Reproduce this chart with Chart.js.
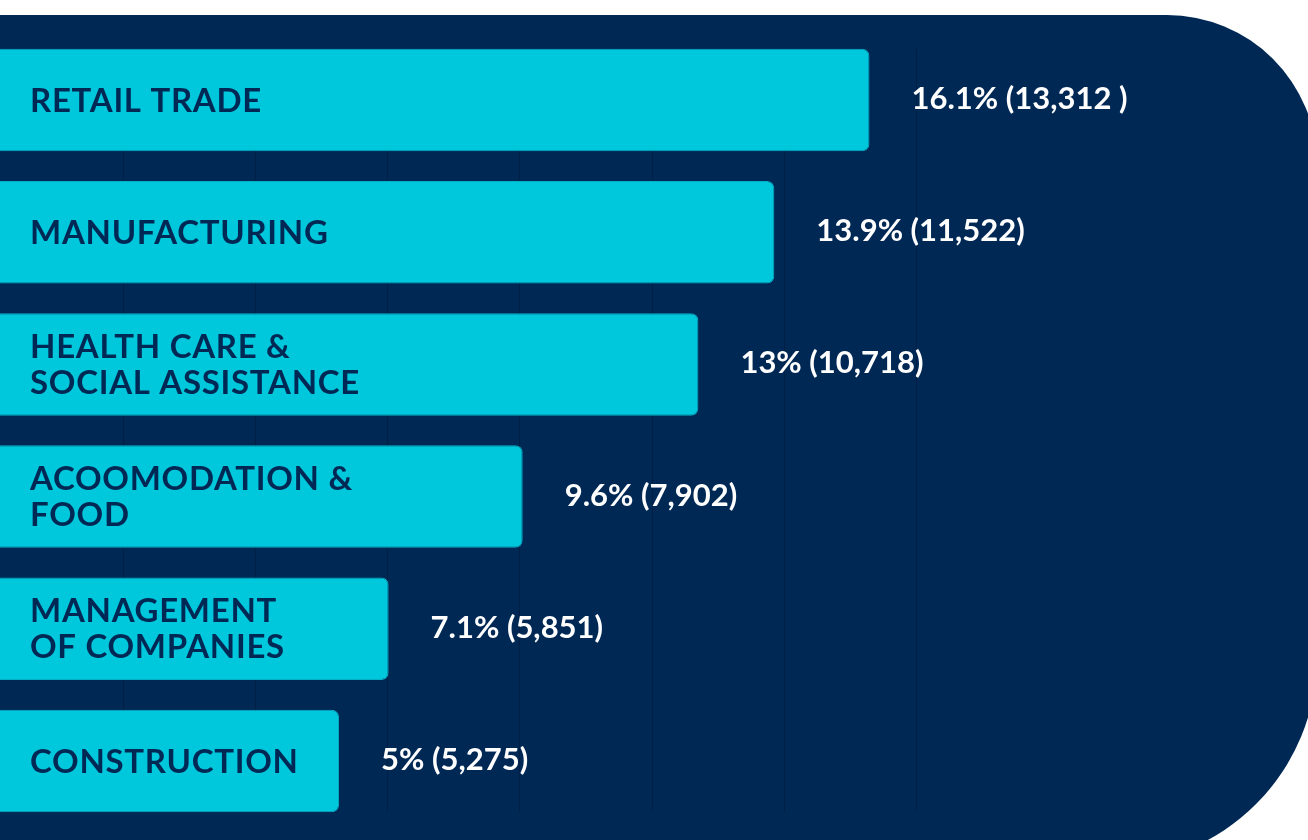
<!DOCTYPE html>
<html>
<head>
<meta charset="utf-8">
<script src="https://cdn.jsdelivr.net/npm/chart.js@4"></script>
<style>
  html, body { margin: 0; padding: 0; background: #fff; overflow: hidden; width: 1308px; height: 840px; position: relative; }
  #panel { position: absolute; left: -40px; top: 15px; width: 1357px; height: 850px; background: #002855; border-radius: 0 150px 208px 0; }
  #chart { position: absolute; left: -9px; top: 0; }
</style>
</head>
<body>
<div id="panel"></div>
<canvas id="chart" width="1321" height="840"></canvas>
<script>
// 데이터
const categories = [
  ['RETAIL TRADE'],
  ['MANUFACTURING'],
  ['HEALTH CARE &', 'SOCIAL ASSISTANCE'],
  ['ACOOMODATION &', 'FOOD'],
  ['MANAGEMENT', 'OF COMPANIES'],
  ['CONSTRUCTION'],
];
// bar lengths as drawn in the picture (jobs)
const barValues = [13300, 11860, 10710, 8050, 6020, 5270];
const valueLabels = [
  '16.1% (13,312 )',
  '13.9% (11,522)',
  '13% (10,718)',
  '9.6% (7,902)',
  '7.1% (5,851)',
  '5% (5,275)',
];
const gridStep = 2000;
const gridMax = 14000;

// grid lines only between the first and last bar, then text on top
const barText = {
  id: 'barText',
  beforeDatasetsDraw(chart) {
    const ctx = chart.ctx;
    const xs = chart.scales.x;
    const bars = chart.getDatasetMeta(0).data;
    const top = bars[0].y - bars[0].height / 2;
    const last = bars[bars.length - 1];
    const bottom = last.y + last.height / 2;
    ctx.save();
    ctx.strokeStyle = '#001f45';
    ctx.lineWidth = 1;
    for (let v = gridStep; v <= gridMax; v += gridStep) {
      const x = Math.round(xs.getPixelForValue(v)) + 0.5;
      ctx.beginPath();
      ctx.moveTo(x, top);
      ctx.lineTo(x, bottom);
      ctx.stroke();
    }
    ctx.restore();
  },
  afterDatasetsDraw(chart) {
    const ctx = chart.ctx;
    const xs = chart.scales.x;
    const bars = chart.getDatasetMeta(0).data;
    ctx.save();
    ctx.textBaseline = 'middle';
    ctx.textAlign = 'left';
    bars.forEach((bar, i) => {
      const lines = categories[i];
      const lineH = 36;
      const y0 = bar.y - ((lines.length - 1) * lineH) / 2;
      ctx.font = '700 33px Lato';
      ctx.letterSpacing = '0.7px';
      ctx.fillStyle = '#002855';
      lines.forEach((t, j) => ctx.fillText(t, xs.left + 39, y0 + j * lineH + 1));

      ctx.font = '700 31px Lato';
      ctx.letterSpacing = '0px';
      ctx.fillStyle = '#ffffff';
      ctx.fillText(valueLabels[i], bar.x + 42, bar.y - 1);
    });
    ctx.restore();
  },
};

const ctx = document.getElementById('chart').getContext('2d');
const chart = new Chart(ctx, {
  type: 'bar',
  data: {
    labels: categories,
    datasets: [
      {
        data: barValues,
        backgroundColor: '#00c8dc',
        borderColor: '#06aec6',
        borderWidth: 1,
        borderRadius: 7,
        barPercentage: 0.776,
        categoryPercentage: 1,
      },
    ],
  },
  options: {
    indexAxis: 'y',
    responsive: false,
    animation: false,
    layout: { padding: { top: 34, bottom: 13, left: 0, right: 0 } },
    plugins: {
      legend: { display: false },
      tooltip: { enabled: false },
    },
    scales: {
      x: { display: false, min: 0, max: 20000 },
      y: { display: false },
    },
  },
  plugins: [barText],
});
</script>
</body>
</html>
